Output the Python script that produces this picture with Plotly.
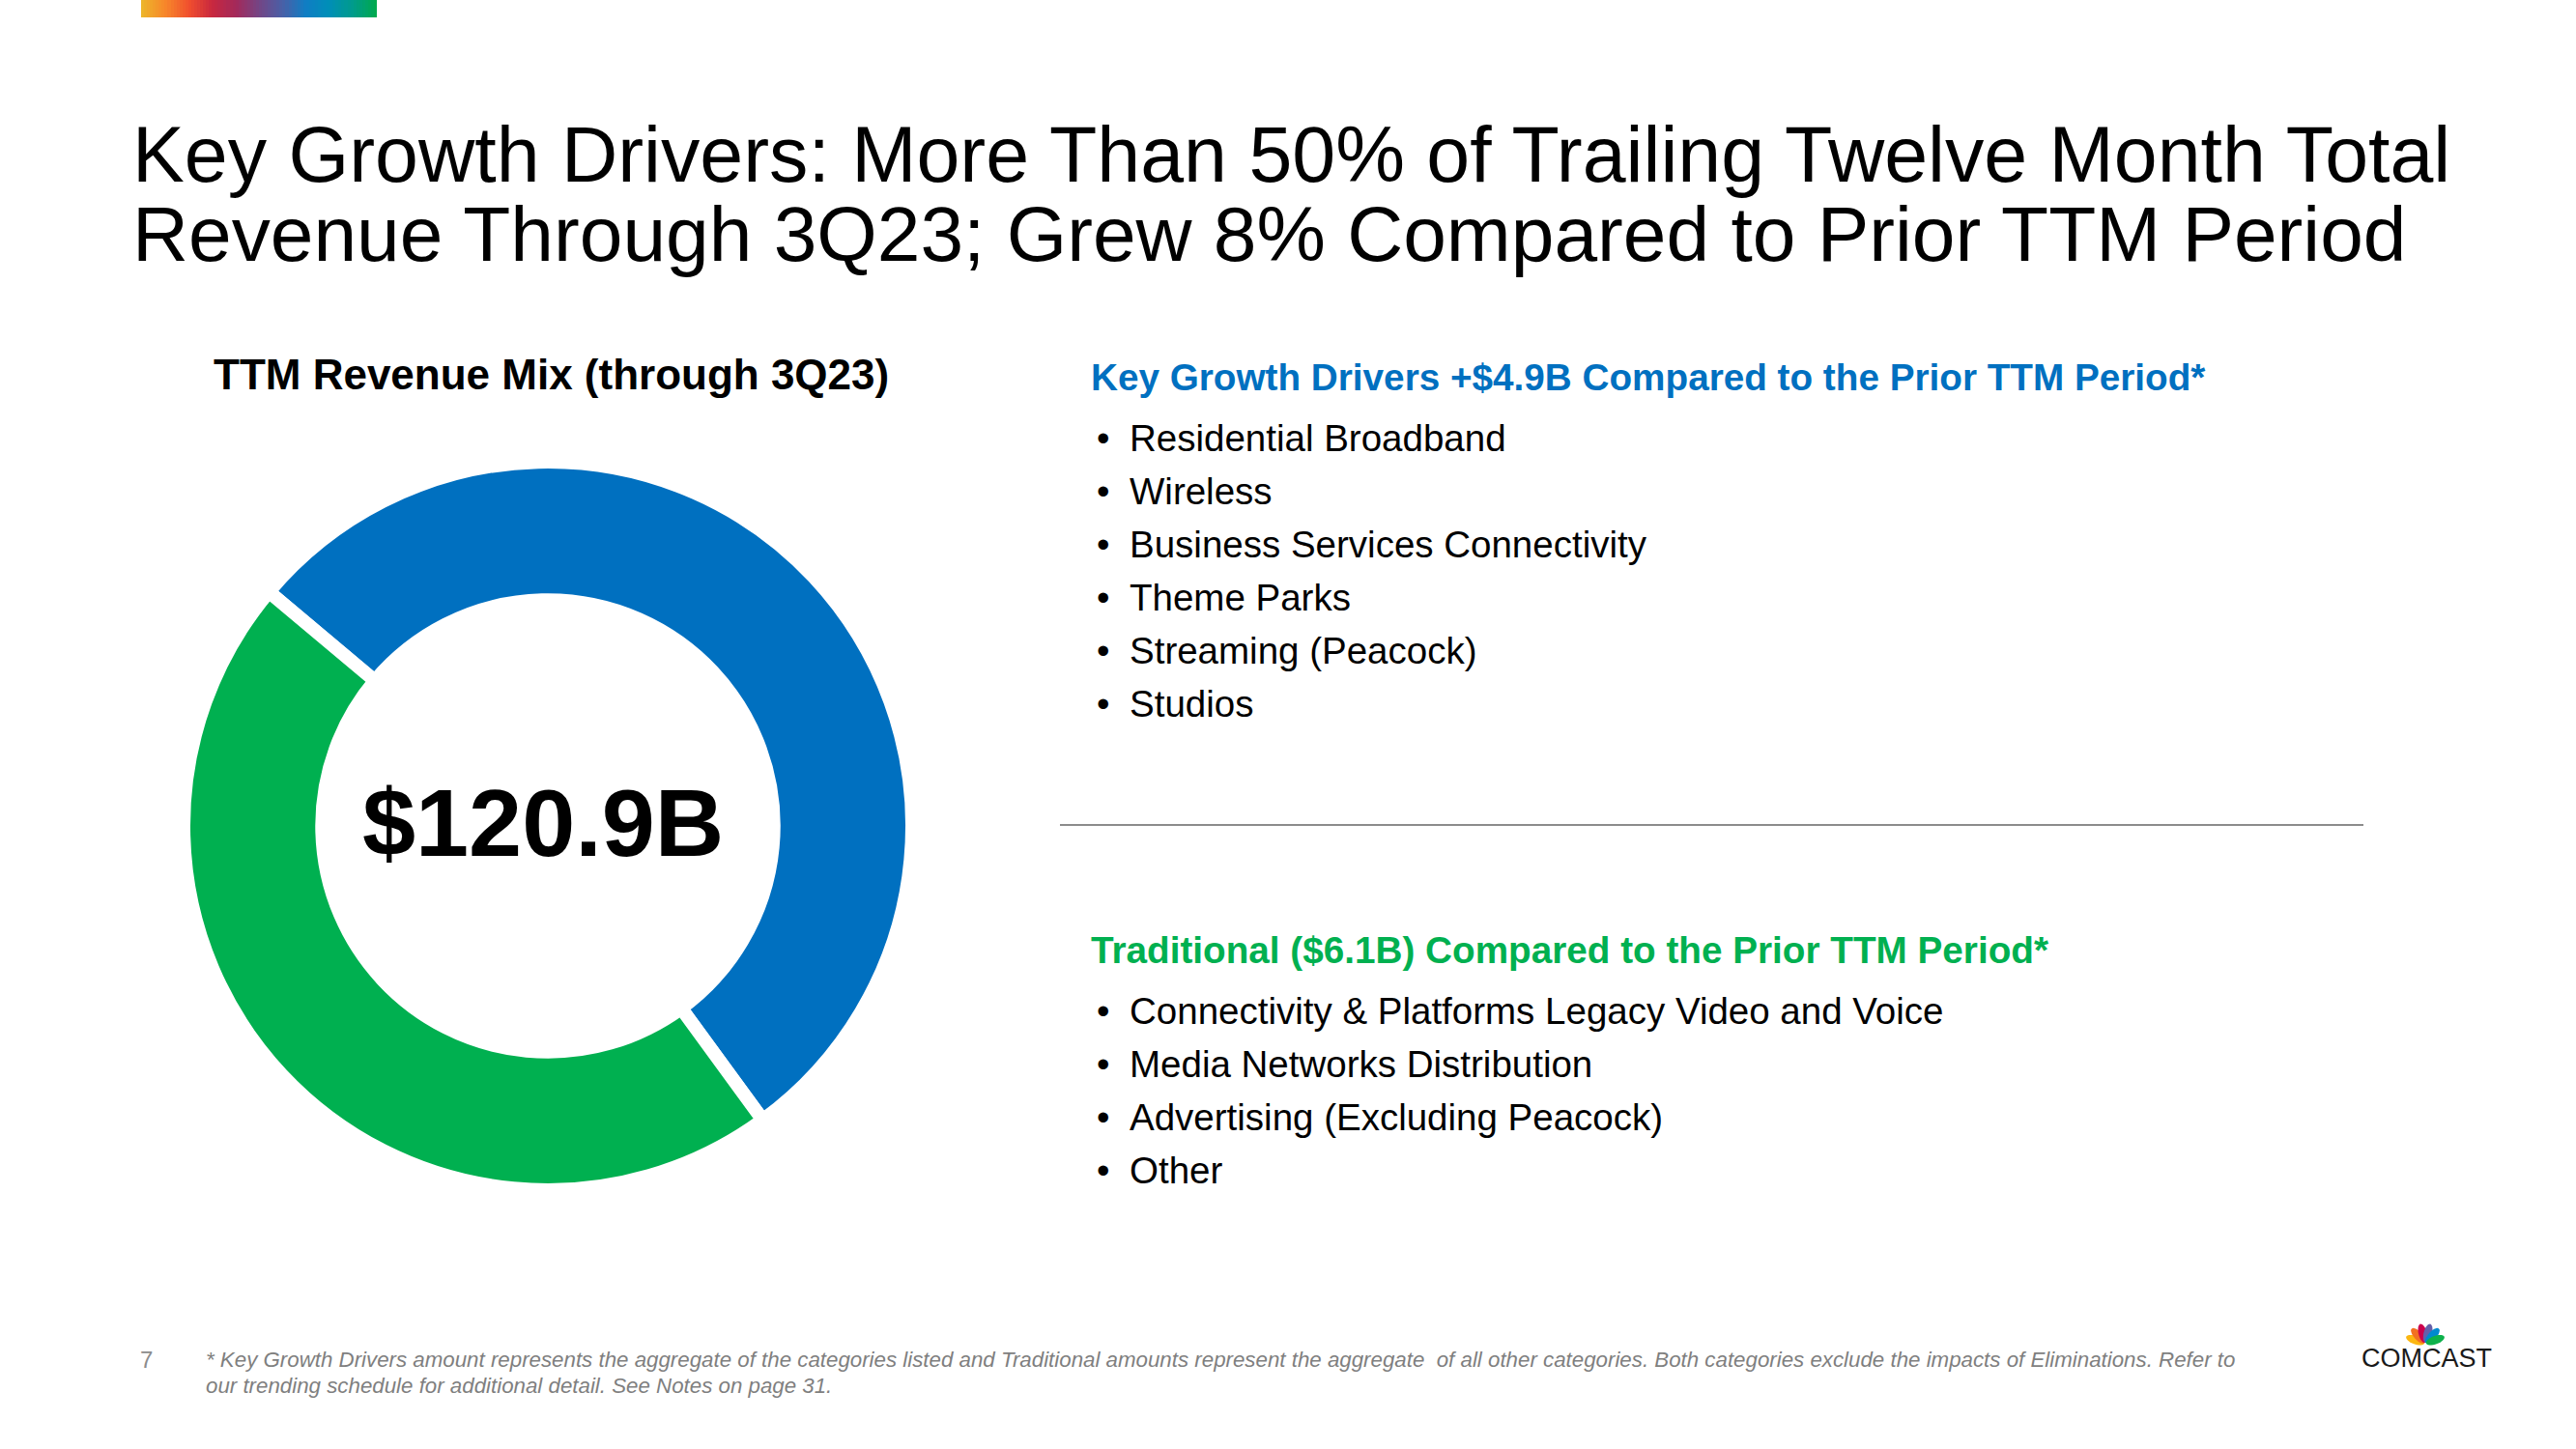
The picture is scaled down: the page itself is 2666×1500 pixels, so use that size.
import numpy as np
import plotly.graph_objects as go

# ---------------- data ----------------
segments = ["Key Growth Drivers", "Traditional"]
segment_values = [65.1, 55.8]          # $B, TTM through 3Q23
segment_colors = ["#0070C0", "#00B050"]
total_label = "$120.9B"

title_lines = [
    "Key Growth Drivers: More Than 50% of Trailing Twelve Month Total",
    "Revenue Through 3Q23; Grew 8% Compared to Prior TTM Period",
]
chart_title = "TTM Revenue Mix (through 3Q23)"

growth_header = "Key Growth Drivers +$4.9B Compared to the Prior TTM Period*"
growth_items = ["Residential Broadband", "Wireless", "Business Services Connectivity",
                "Theme Parks", "Streaming (Peacock)", "Studios"]
trad_header = "Traditional ($6.1B) Compared to the Prior TTM Period*"
trad_items = ["Connectivity & Platforms Legacy Video and Voice", "Media Networks Distribution",
              "Advertising (Excluding Peacock)", "Other"]

footnote_lines = [
    "* Key Growth Drivers amount represents the aggregate of the categories listed and Traditional amounts "
    "represent the aggregate  of all other categories. Both categories exclude the impacts of Eliminations. Refer to",
    "our trending schedule for additional detail. See Notes on page 31.",
]
page_number = "7"

W, H = 2666, 1500
FONT = "Liberation Sans, Arial, Helvetica, sans-serif"

fig = go.Figure()

# ---------------- donut ----------------
cx, cy, R = 567, 855, 377
fig.add_trace(go.Pie(
    labels=segments, values=segment_values, sort=False,
    direction="clockwise", rotation=-50, hole=0.62,
    marker=dict(colors=segment_colors, line=dict(color="white", width=14)),
    textinfo="none", hoverinfo="skip", showlegend=False,
    domain=dict(x=[(cx - R) / W, (cx + R) / W], y=[1 - (cy + R) / H, 1 - (cy - R) / H]),
))

# ---------------- top colour bar (decoration) ----------------
bar_stops = ["#EDB42A", "#F7862A", "#F04E2E", "#C8283F", "#A3295A", "#744585",
             "#4A5FA6", "#0F7EC4", "#008EB8", "#009B8C", "#00A94F"]
ncell = 80
cs = [[i / (len(bar_stops) - 1), c] for i, c in enumerate(bar_stops)]
bx0, bx1 = 146, 390
fig.add_trace(go.Heatmap(
    z=[list(range(ncell))], x0=bx0 + (bx1 - bx0) / ncell / 2, dx=(bx1 - bx0) / ncell,
    y0=9, dy=18, colorscale=cs, showscale=False, hoverinfo="skip",
    xaxis="x", yaxis="y",
))

def txt(text, x, y, size, color="#000000", bold=False, italic=False, xanchor="left"):
    fig.add_annotation(
        text=text, x=x, y=y, xref="x", yref="y", xanchor=xanchor, yanchor="middle",
        showarrow=False, borderpad=0,
        font=dict(family=FONT, size=size, color=color,
                  weight="bold" if bold else "normal",
                  style="italic" if italic else "normal"),
    )

# title
txt(title_lines[0], 136, 160, 80.7)
txt(title_lines[1], 136, 242, 80.3)

# donut header and centre label
txt(chart_title, 570, 387, 44, bold=True, xanchor="center")
txt(total_label, 562, 851, 99, bold=True, xanchor="center")

# right side lists
BLUE, GREEN = "#0070C0", "#00B050"
txt(growth_header, 1128, 390, 38.7, color=BLUE, bold=True)
for i, item in enumerate(growth_items):
    y = 453 + i * 55
    txt("•", 1134, y, 38.5)
    txt(item, 1168, y, 38.5)

txt(trad_header, 1128, 983, 38.7, color=GREEN, bold=True)
for i, item in enumerate(trad_items):
    y = 1046 + i * 55
    txt("•", 1134, y, 38.5)
    txt(item, 1168, y, 38.5)

# separator
fig.add_shape(type="line", x0=1097, x1=2446, y0=854, y1=854, xref="x", yref="y",
              line=dict(color="#8C8C8C", width=2))

# footer
txt(page_number, 144, 1407, 24, color="#8C8C8C")
txt(footnote_lines[0], 212, 1407, 22.3, color="#7F7F7F", italic=True)
txt(footnote_lines[1], 212, 1434, 22.3, color="#7F7F7F", italic=True)

# Comcast logo (decoration)
txt("COMCAST", 2511, 1406, 27, color="#1A1A1A", xanchor="center")
feather_colors = ["#FCB711", "#F37021", "#CC004C", "#6460AA", "#0089D0", "#0DB14B"]
feather_angles = [-70, -42, -14, 14, 42, 70]
bxp, byp = 2510, 1391
t = np.linspace(0, 2 * np.pi, 30)
for col, ang in zip(feather_colors, feather_angles):
    a = np.deg2rad(ang)
    ux, uy = np.sin(a), -np.cos(a)          # along feather
    vx, vy = np.cos(a), np.sin(a)           # across feather
    ecx, ecy = bxp + 11 * ux, byp + 11 * uy
    px = ecx + 10 * np.cos(t) * ux + 4.3 * np.sin(t) * vx
    py = ecy + 10 * np.cos(t) * uy + 4.3 * np.sin(t) * vy
    path = "M " + " L ".join(f"{xx:.2f},{yy:.2f}" for xx, yy in zip(px, py)) + " Z"
    fig.add_shape(type="path", path=path, xref="x", yref="y",
                  fillcolor=col, line=dict(width=0))

fig.update_layout(
    width=W, height=H, margin=dict(l=0, r=0, t=0, b=0, pad=0),
    paper_bgcolor="white", plot_bgcolor="white",
    xaxis=dict(range=[0, W], visible=False, fixedrange=True, domain=[0, 1]),
    yaxis=dict(range=[H, 0], visible=False, fixedrange=True, domain=[0, 1]),
    hovermode=False, showlegend=False,
)

fig.write_html("out.html", config={"displayModeBar": False, "staticPlot": True},
               post_script="document.body.style.margin='0';document.body.style.overflow='hidden';")
